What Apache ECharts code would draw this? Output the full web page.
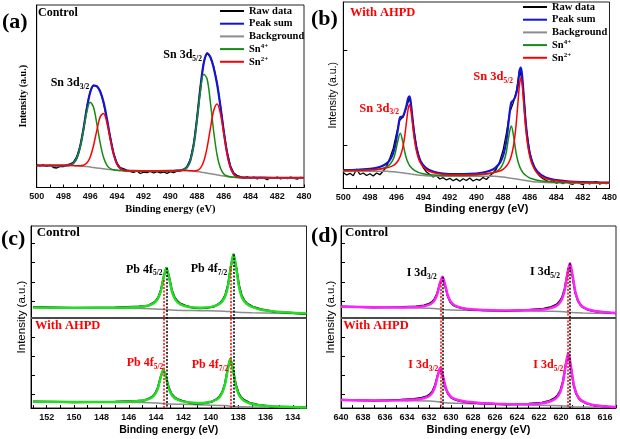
<!DOCTYPE html>
<html><head><meta charset="utf-8">
<script src="https://cdn.jsdelivr.net/npm/echarts@6.0.0/dist/echarts.min.js"></script>
<style>html,body{margin:0;padding:0;background:#fff}#c{width:620px;height:439px}</style>
</head><body><div id="c"></div>
<script>
// ---------- Panel (a): Sn 3d, Control ----------
const aE   = [500,499,498,497.75,497.5,497.25,497,496.75,496.5,496.25,496,495.75,495.5,495.25,495,494.75,494.5,494.25,494,493.75,493.5,493,492,491,490,489.5,489.25,489,488.75,488.5,488.25,488,487.75,487.5,487.25,487,486.75,486.5,486.25,486,485.75,485.5,485.25,485,484.5,484,483,482,481,480];
const aBg  = [22,22,22,22,22,21.9,21.8,21.5,21.2,20.9,20.5,20.1,19.6,19.2,18.8,18.3,17.9,17.5,17.2,17.0,16.8,16.6,16.5,16.5,16.6,16.9,17.0,17.1,17.0,16.8,16.4,16.0,15.5,15.0,14.4,13.8,13.2,12.6,12.0,11.5,11.0,10.6,10.3,10.1,9.9,9.8,9.8,9.7,9.7,9.7];
const aSn4 = [22,22,22,22.1,22.6,24.4,29.6,40.5,57.5,75.6,85.2,80.3,63.7,44.6,30.2,22.4,19.0,17.75,17.2,17.0,16.8,16.6,16.5,16.5,16.6,16.9,17.2,17.9,20.3,27.4,42.9,68.1,96.2,113.3,108.5,84.7,55.2,32.2,19.2,13.6,11.5,10.7,10.3,10.1,9.9,9.8,9.8,9.7,9.7,9.7];
const aSn2 = [22,22,22,22,22,21.9,21.8,21.7,22.2,24.4,30.3,41.7,57.2,70.6,74.0,65.0,48.9,33.7,23.9,19.2,17.35,16.6,16.5,16.5,16.6,16.9,17.0,17.1,17.0,16.8,16.6,17.05,19.4,26.2,39.9,59.4,77.3,83.6,73.7,53.7,33.7,20.2,13.5,10.9,9.9,9.8,9.8,9.7,9.7,9.7];
const aSum = [22,22,22,22.1,22.6,24.4,29.6,40.7,58.5,79.1,95.0,101.9,101.3,96.0,85.4,69.1,50.0,33.95,23.9,19.2,17.35,16.6,16.5,16.5,16.6,16.9,17.2,17.9,20.3,27.4,43.1,69.2,100.1,124.5,134.0,130.3,119.3,103.2,80.9,55.8,34.2,20.3,13.5,10.9,9.9,9.8,9.8,9.7,9.7,9.7];
const aRaw = [[500,23.0],[499.75,21.5],[499.5,22.8],[499.25,21.0],[499,22.5],[498.75,20.0],[498.5,19.5],[498.25,21.2],[498,20.8],[497.75,22.6],[497.5,23.5],[497.25,25.5],[497,30.8],[496.75,41.5],[496.5,59.0],[496.25,80.5],[496,96.0],[495.75,102.5],[495.5,101.0],[495.25,96.8],[495,84.5],[494.75,68.0],[494.5,50.8],[494.25,34.5],[494,24.5],[493.75,19.8],[493.5,18.8],[493.25,17.2],[493,16.0],[492.75,15.2],[492.5,16.5],[492.25,14.0],[492,15.3],[491.75,14.8],[491.5,16.2],[491.25,14.5],[491,15.8],[490.75,14.6],[490.5,15.5],[490.25,14.2],[490,15.9],[489.75,14.9],[489.5,16.4],[489.25,16.5],[489,18.0],[488.75,21.0],[488.5,28.5],[488.25,44.0],[488,70.5],[487.75,101.0],[487.5,125.5],[487.25,134.8],[487,130.0],[486.75,120.5],[486.5,104.0],[486.25,81.5],[486,56.5],[485.75,35.5],[485.5,21.5],[485.25,14.5],[485,12.0],[484.75,11.0],[484.5,9.2],[484.25,10.8],[484,9.0],[483.75,10.5],[483.5,8.5],[483.25,10.2],[483,9.4],[482.75,7.8],[482.5,10.0],[482.25,9.1],[482,10.5],[481.75,8.6],[481.5,9.8],[481.25,8.9],[481,10.4],[480.75,9.2],[480.5,8.4],[480.25,10.1],[480,9.5]];

// ---------- Panel (b): Sn 3d, With AHPD ----------
const bE   = [500,499,498,497.5,497,496.6,496.3,496.1,495.9,495.72,495.55,495.4,495.25,495.13,495.03,494.93,494.8,494.65,494.45,494.2,493.8,493.2,492.5,491.5,490.5,489.5,489,488.6,488.2,487.95,487.75,487.55,487.38,487.2,487.05,486.9,486.76,486.66,486.56,486.43,486.28,486.08,485.83,485.43,484.8,484,483,482,481,480];
const bBg  = [17.5,17.4,17.35,17.3,17.3,17.1,16.8,16.55,16.3,16.0,15.7,15.4,15.1,14.9,14.7,14.5,14.2,13.95,13.6,13.2,12.8,12.5,12.35,12.3,12.3,12.3,12.3,12.2,11.8,11.4,11.0,10.6,10.25,9.9,9.6,9.3,9.0,8.75,8.5,8.2,7.9,7.45,7.0,6.4,5.9,5.7,5.6,5.5,5.45,5.4];
const bSn4 = [17.8,17.9,18.4,18.9,20.2,22.8,27.8,35.2,47.7,55.3,47.9,37.5,29.8,25.7,23.2,21.4,19.6,18.1,16.7,15.4,14.3,13.5,13.1,13.0,13.2,13.9,14.9,16.5,20.35,26.4,36.5,53.5,62.6,51.9,38.2,28.2,22.3,19.3,17.0,14.8,13.0,11.2,9.8,8.2,6.9,6.3,5.95,5.7,5.6,5.5];
const bSn2 = [18.0,18.1,18.6,19.0,19.9,21.1,22.6,24.4,27.5,32.2,39.8,50.9,66.8,79.45,83.7,79.1,64.8,48.6,34.5,25.4,19.1,15.7,14.3,13.7,13.8,14.4,15.2,16.2,17.8,19.7,22.2,26.5,32.55,43.7,59.2,82.1,104.1,110.5,103.6,82.7,58.8,38.1,24.7,15.35,10.05,7.75,6.7,6.2,5.9,5.7];
const bSum = [18.3,18.6,19.6,20.6,22.9,26.8,33.6,43.0,58.9,71.5,71.9,76.0,83.0,90.1,92.2,85.9,70.0,52.6,37.5,27.6,20.6,16.7,15.0,14.4,14.6,16.0,17.75,20.45,26.4,34.7,47.6,70.0,86.0,88.5,93.0,101.5,117.3,121.0,112.1,89.3,63.9,41.8,27.4,17.1,11.05,8.3,7.0,6.4,6.1,5.85];
const bRaw = [[500,16.0],[499.75,13.5],[499.5,15.2],[499.25,12.8],[499,19.5],[498.75,14.0],[498.5,15.5],[498.25,13.0],[498,14.8],[497.75,12.5],[497.5,15.5],[497.25,13.8],[497,17.5],[496.75,22.0],[496.5,30.5],[496.25,40.0],[496,55.0],[495.75,68.5],[495.5,71.5],[495.25,82.0],[495,91.0],[494.75,64.0],[494.5,41.5],[494.25,28.5],[494,21.0],[493.75,16.5],[493.5,14.0],[493.25,11.5],[493,12.8],[492.75,9.5],[492.5,10.8],[492.25,8.5],[492,10.2],[491.75,7.8],[491.5,9.6],[491.25,7.2],[491,9.8],[490.75,8.0],[490.5,10.5],[490.25,7.5],[490,9.3],[489.75,8.2],[489.5,11.0],[489.25,9.0],[489,12.5],[488.75,15.5],[488.5,19.5],[488.25,27.0],[488,38.0],[487.75,55.0],[487.5,76.0],[487.25,85.0],[487,97.0],[486.75,119.5],[486.5,103.0],[486.25,60.0],[486,36.5],[485.75,24.0],[485.5,17.0],[485.25,12.5],[485,9.8],[484.75,8.0],[484.5,6.5],[484.25,7.8],[484,5.2],[483.75,6.6],[483.5,4.8],[483.25,6.9],[483,5.0],[482.75,4.2],[482.5,6.3],[482.25,5.1],[482,3.8],[481.75,6.5],[481.5,4.6],[481.25,5.8],[481,7.0],[480.75,4.4],[480.5,5.6],[480.25,4.9],[480,5.5]];

// ---------- Panel (c): Pb 4f (top: Control, bottom: With AHPD) ----------
const pbTopE   = [153,150,147,145.25,144.65,144.25,144.05,143.85,143.65,143.45,143.25,143.05,142.85,142.65,142.45,142.25,141.85,141.25,140.8,140.34,139.74,139.34,139.14,138.94,138.74,138.54,138.34,138.14,137.94,137.74,137.54,137.34,136.94,136.34,135.34,134,133];
const pbTopFit = [100.5,100.3,100.2,101.0,102.3,104.2,106.2,109.8,117.1,130.2,140.1,130.2,116.9,109.7,106.0,103.9,101.8,100.4,100.3,100.4,101.9,104.4,107.1,112.0,122.1,140.0,153.5,139.7,121.6,111.3,106.6,103.7,100.8,98.3,96.6,95.3,94.6];
const pbTopRaw = [100.9,99.9,100.6,101.4,101.9,104.8,106.7,110.5,117.9,131.0,140.6,131.2,118.0,110.8,106.9,104.5,102.4,100.0,99.7,100.1,101.5,104.9,107.9,113.0,123.2,141.2,154.0,141.0,123.0,112.6,107.4,104.3,101.3,98.7,96.3,95.0,94.1];
const pbTopBgE = [153,145,144,143.25,142,140.8,139,138.34,137,135,133];
const pbTopBg  = [100.5,99.4,99.0,98.3,97.6,97.3,96.8,96.0,95.3,94.8,94.3];
const pbBotE   = [153,150,147,145.47,144.87,144.47,144.27,144.07,143.87,143.67,143.47,143.27,143.07,142.87,142.67,142.47,142.07,141.47,141.02,140.57,139.97,139.57,139.37,139.17,138.97,138.77,138.57,138.37,138.17,137.97,137.77,137.57,137.17,136.57,135.57,134,133];
const pbBotFit = [6.3,6.1,6.1,6.8,7.8,9.4,10.9,13.8,19.6,30.2,38.1,30.1,19.4,13.4,10.3,8.6,6.6,5.4,5.0,5.1,6.4,8.5,10.8,14.9,23.2,37.6,48.9,37.3,22.5,14.0,9.7,7.3,4.8,2.9,1.7,1.0,0.6];
const pbBotRaw = [6.6,5.8,6.3,7.1,7.5,9.9,11.4,14.5,20.4,31.0,38.6,30.9,20.3,14.2,11.0,9.1,7.1,5.0,4.6,4.8,6.0,8.9,11.5,15.8,24.0,38.5,49.4,38.4,23.6,15.0,10.5,8.0,5.3,3.2,1.4,0.8,0.4];
const pbBotBgE = [153,145,144,143.47,142,141,139,138.57,137,135,133];
const pbBotBg  = [6.3,5.5,5.0,4.3,3.7,3.3,2.5,1.8,1.0,0.6,0.3];
const pbCtrlPeaks = [143.25,138.34], pbCtrlTops = [140.1,153.5];
const pbAhpdPeaks = [143.47,138.57], pbAhpdTops = [128,142];

// ---------- Panel (d): I 3d (top: Control, bottom: With AHPD) ----------
const iTopE   = [640,637,634.38,633.18,632.46,631.98,631.74,631.5,631.26,631.02,630.78,630.54,630.3,630.06,629.82,629.58,629.1,628.38,627.18,625,622.79,621.59,620.87,620.39,620.15,619.91,619.67,619.43,619.19,618.95,618.71,618.47,618.23,617.99,617.51,616.79,615.59,615];
const iTopFit = [101.3,100.8,100.6,101.0,101.8,103.4,104.9,107.7,113.4,123.6,131.3,123.5,113.0,106.9,103.9,102.2,100.35,98.9,98.1,97.4,97.9,98.6,100.1,102.4,104.8,109.0,117.6,133.1,144.7,132.8,117.0,108.1,103.6,101.0,98.5,96.7,95.6,95.2];
const iTopRaw = [101.6,100.5,100.9,101.5,102.6,104.3,105.8,108.9,114.6,124.4,131.0,122.6,111.8,106.0,103.2,101.6,100.0,98.5,97.8,97.0,98.3,99.2,101.0,103.6,106.2,110.5,119.0,134.0,144.2,131.6,115.6,107.2,103.0,100.6,98.0,96.4,95.2,94.8];
const iTopBgE = [640,632,631,630.5,629,625,621,619.7,619,618,615];
const iTopBg  = [101.3,99.8,99.0,98.2,97.8,97.2,96.7,96.3,95.4,95.0,94.6];
const iBotE   = [640,637,634.57,633.37,632.65,632.17,631.93,631.69,631.45,631.21,630.97,630.73,630.49,630.25,630.01,629.77,629.29,628.57,627.37,625,622.94,621.74,621.02,620.54,620.3,620.06,619.82,619.58,619.34,619.1,618.86,618.62,618.38,618.14,617.66,616.94,615.74,615];
const iBotFit = [8.0,7.6,7.7,8.25,9.3,10.8,12.4,15.3,21.4,32.15,40.3,31.9,20.9,14.55,11.4,9.6,7.7,6.2,5.1,3.9,3.85,4.7,6.5,9.0,11.55,16.2,25.55,42.1,54.5,41.7,24.8,15.15,10.3,7.6,4.8,2.7,1.45,0.9];
const iBotRaw = [8.3,7.3,8.2,9.0,10.3,11.9,13.6,16.6,22.8,33.0,40.0,30.8,19.6,13.6,10.7,9.0,7.3,5.8,4.8,3.6,4.2,5.3,7.4,10.2,12.9,17.6,27.0,43.0,54.2,40.6,23.4,14.2,9.6,7.1,4.4,2.4,1.2,0.6];
const iBotBgE = [640,632,631,630.5,629,625,621,619.5,619,618,615];
const iBotBg  = [8.0,6.9,6.0,5.2,4.6,3.6,2.6,2.0,1.2,0.9,0.4];
const iCtrlPeaks = [630.75,619.19], iCtrlTops = [131.3,144.7];
const iAhpdPeaks = [630.92,619.38], iAhpdTops = [126,140];

// ---------- Axis ticks / labels ----------
const snTicks  = [480,481,482,483,484,485,486,487,488,489,490,491,492,493,494,495,496,497,498,499,500];
const snLabels = [480,482,484,486,488,490,492,494,496,498,500];
const pbTicks  = [133,134,135,136,137,138,139,140,141,142,143,144,145,146,147,148,149,150,151,152,153];
const pbLabels = [134,136,138,140,142,144,146,148,150,152];
const iTicks   = [615,616,617,618,619,620,621,622,623,624,625,626,627,628,629,630,631,632,633,634,635,636,637,638,639,640];
const iLabels  = [616,618,620,622,624,626,628,630,632,634,636,638,640];
const stackYTicks = [13.5,32.5,51.5,70.5,107,126,145.5,165];
const bYTicks = [43.5,138.5];
const dividerLevel = 90.7;

const SERIF = "'Liberation Serif','Times New Roman',serif";
const SANS  = "'Liberation Sans',Arial,sans-serif";

const zip = (xs, ys) => xs.map((x, i) => [x, ys[i]]);

function xAx(gi, min, max, ticks, labels, name, gap, nameFont, nameSize) {
  return {
    type: 'value', gridIndex: gi, min, max, inverse: true,
    axisLine: {show: true, onZero: false, lineStyle: {color: '#000', width: 1}},
    axisTick: {show: true, inside: true, length: 3, customValues: ticks, lineStyle: {color: '#000', width: 1}},
    axisLabel: {show: true, customValues: labels, margin: 5, fontSize: 9, fontWeight: 'bold', fontFamily: SANS, color: '#111'},
    splitLine: {show: false},
    name, nameLocation: 'middle', nameGap: gap,
    nameTextStyle: {fontFamily: nameFont, fontWeight: 'bold', fontSize: nameSize, color: '#000'}
  };
}
function yAx(gi, max, ticks, gap, nameFont, nameWeight, nameSize) {
  return {
    type: 'value', gridIndex: gi, min: 0, max,
    axisLine: {show: true, onZero: false, lineStyle: {color: '#000', width: 1}},
    axisTick: ticks ? {show: true, inside: true, length: 4, customValues: ticks, lineStyle: {color: '#000'}} : {show: false},
    axisLabel: {show: false}, splitLine: {show: false},
    name: 'Intensity (a.u.)', nameLocation: 'middle', nameGap: gap, nameRotate: 90,
    nameTextStyle: {fontFamily: nameFont, fontWeight: nameWeight, fontSize: nameSize, color: '#000'}
  };
}
function line(name, gi, data, color, width, z, smooth, extra) {
  return Object.assign({
    type: 'line', name, xAxisIndex: gi, yAxisIndex: gi, data,
    showSymbol: false, symbol: 'none', smooth: smooth ? 0.35 : false,
    lineStyle: {color, width}, itemStyle: {color}, z, silent: true,
    animation: false, emphasis: {disabled: true}
  }, extra || {});
}
function dotted(peaks, tops, color) {
  return peaks.map((e, i) => [
    {coord: [e, tops[i]], lineStyle: {color, width: 1.5, type: [2, 1.5]}},
    {coord: [e, 0]}
  ]);
}
function marks(xmin, xmax, ctrlP, ctrlT, ahpdP, ahpdT) {
  return {
    silent: true, symbol: ['none', 'none'], label: {show: false}, emphasis: {disabled: true}, animation: false,
    data: [
      [{coord: [xmin, dividerLevel], lineStyle: {color: '#4a4a4a', width: 2, type: 'solid'}}, {coord: [xmax, dividerLevel]}],
      ...dotted(ctrlP, ctrlT, '#000'),
      ...dotted(ahpdP, ahpdT, '#ff0000')
    ]
  };
}
function ann(x, y, text, color, size, subSize) {
  const sub = subSize || 7.5;
  return {
    type: 'text', x, y, silent: true, z: 100,
    style: {
      text, fill: color, fontFamily: SERIF, fontWeight: 'bold', fontSize: size,
      lineHeight: size + 4, align: 'left', verticalAlign: 'middle',
      textAlign: 'left', textVerticalAlign: 'middle',
      rich: {sub: {fill: color, fontFamily: SERIF, fontWeight: 'bold', fontSize: sub, lineHeight: 9, verticalAlign: 'bottom'}}
    }
  };
}
function legend(left, top) {
  return {
    data: ['Raw data', 'Peak sum', 'Background', 'Sn4+', 'Sn2+'],
    orient: 'vertical', left, top, padding: 0, itemGap: 0.7,
    itemWidth: 24, itemHeight: 2, icon: 'rect', selectedMode: false,
    formatter: n => n === 'Sn4+' ? 'Sn{sup|4+}' : (n === 'Sn2+' ? 'Sn{sup|2+}' : n),
    textStyle: {
      fontFamily: SERIF, fontWeight: 'bold', fontSize: 10.5, color: '#000', lineHeight: 12,
      rich: {sup: {fontFamily: SERIF, fontWeight: 'bold', fontSize: 7, lineHeight: 8, verticalAlign: 'top', color: '#000'}}
    }
  };
}

const BLUE = '#1414d2', GRAY = '#8c8c8c', DGREEN = '#168a16', RED = '#ff0000', LIME = '#22dd22', MAGENTA = '#ff22ff';

const option = {
  backgroundColor: '#fff',
  animation: false,
  grid: [
    {left: 36.7, top: 5, width: 267.3, height: 182.5, show: true, borderColor: '#222', borderWidth: 1},
    {left: 343.3, top: 2, width: 268.4, height: 186.5, show: true, borderColor: '#222', borderWidth: 1},
    {left: 31, top: 226, width: 275.5, height: 182, show: true, borderColor: '#222', borderWidth: 1},
    {left: 341, top: 226, width: 275, height: 182, show: true, borderColor: '#222', borderWidth: 1}
  ],
  xAxis: [
    xAx(0, 480, 500, snTicks, snLabels, 'Binding energy (eV)', 16, SERIF, 10.5),
    xAx(1, 480, 500, snTicks, snLabels, 'Binding energy (eV)', 15, SANS, 11),
    xAx(2, 133, 153.15, pbTicks, pbLabels, 'Binding energy (eV)', 17, SANS, 10.5),
    xAx(3, 615, 640, iTicks, iLabels, 'Binding energy (eV)', 16, SANS, 11)
  ],
  yAxis: [
    yAx(0, 182.5, null, 8, SERIF, 'bold', 10),
    yAx(1, 186.5, bYTicks, 5, SANS, 'normal', 10.5),
    yAx(2, 182, stackYTicks, 3, SANS, 'normal', 11.5),
    yAx(3, 182, stackYTicks, 4, SANS, 'normal', 11.5)
  ],
  legend: [legend(220, 5), legend(523, 1)],
  series: [
    line('Raw data', 0, aRaw, '#000', 1.3, 2, false),
    line('Peak sum', 0, zip(aE, aSum), BLUE, 2.2, 3, true),
    line('Background', 0, zip(aE, aBg), GRAY, 1.5, 4, true),
    line('Sn4+', 0, zip(aE, aSn4), DGREEN, 1.5, 5, true),
    line('Sn2+', 0, zip(aE, aSn2), RED, 1.5, 6, true),

    line('Raw data', 1, bRaw, '#000', 1.3, 2, false),
    line('Peak sum', 1, zip(bE, bSum), BLUE, 2.2, 3, true),
    line('Background', 1, zip(bE, bBg), GRAY, 1.5, 4, true),
    line('Sn4+', 1, zip(bE, bSn4), DGREEN, 1.5, 5, true),
    line('Sn2+', 1, zip(bE, bSn2), RED, 1.5, 6, true),

    line('Pb bg control', 2, zip(pbTopBgE, pbTopBg), GRAY, 1.5, 2, true),
    line('Pb bg AHPD', 2, zip(pbBotBgE, pbBotBg), GRAY, 1.5, 2, true),
    line('Pb raw control', 2, zip(pbTopE, pbTopRaw), '#000', 2, 3, false),
    line('Pb raw AHPD', 2, zip(pbBotE, pbBotRaw), '#000', 2, 3, false),
    line('Pb fit control', 2, zip(pbTopE, pbTopFit), LIME, 2.5, 4, true),
    line('Pb fit AHPD', 2, zip(pbBotE, pbBotFit), LIME, 2.5, 4, true,
      {markLine: marks(133, 153.15, pbCtrlPeaks, pbCtrlTops, pbAhpdPeaks, pbAhpdTops)}),

    line('I bg control', 3, zip(iTopBgE, iTopBg), GRAY, 1.5, 2, true),
    line('I bg AHPD', 3, zip(iBotBgE, iBotBg), GRAY, 1.5, 2, true),
    line('I raw control', 3, zip(iTopE, iTopRaw), '#000', 2, 3, false),
    line('I raw AHPD', 3, zip(iBotE, iBotRaw), '#000', 2, 3, false),
    line('I fit control', 3, zip(iTopE, iTopFit), MAGENTA, 2.5, 4, true),
    line('I fit AHPD', 3, zip(iBotE, iBotFit), MAGENTA, 2.5, 4, true,
      {markLine: marks(615, 640, iCtrlPeaks, iCtrlTops, iAhpdPeaks, iAhpdTops)})
  ],
  graphic: {elements: [
    ann(2, 22, '(a)', '#000', 22),
    ann(311, 19, '(b)', '#000', 22),
    ann(1, 239, '(c)', '#000', 22),
    ann(311, 236, '(d)', '#000', 22),
    ann(38, 13.3, 'Control', '#000', 12),
    ann(50.7, 83, 'Sn 3d{sub|3/2}', '#000', 12),
    ann(163.3, 55, 'Sn 3d{sub|5/2}', '#000', 12),
    ann(350, 12.7, 'With AHPD', RED, 12.5),
    ann(359.3, 108.3, 'Sn 3d{sub|3/2}', RED, 12.5),
    ann(473.3, 76.7, 'Sn 3d{sub|5/2}', RED, 12.5),
    ann(36.7, 232.3, 'Control', '#000', 13),
    ann(35, 325.7, 'With AHPD', RED, 12.5),
    ann(126, 269.5, 'Pb 4f{sub|5/2}', '#000', 12),
    ann(190.7, 269.3, 'Pb 4f{sub|7/2}', '#000', 12),
    ann(126.7, 363.3, 'Pb 4f{sub|5/2}', RED, 12),
    ann(191.7, 365, 'Pb 4f{sub|7/2}', RED, 12),
    ann(345, 232.3, 'Control', '#000', 13),
    ann(343.3, 325.7, 'With AHPD', RED, 12.5),
    ann(406.7, 273.3, 'I 3d{sub|3/2}', '#000', 12),
    ann(530, 271.7, 'I 3d{sub|5/2}', '#000', 12),
    ann(408.3, 365, 'I 3d{sub|3/2}', RED, 12),
    ann(533.3, 365, 'I 3d{sub|5/2}', RED, 12)
  ]}
};

const chart = echarts.init(document.getElementById('c'), null, {renderer: 'canvas'});
chart.setOption(option);
</script>
</body></html>
